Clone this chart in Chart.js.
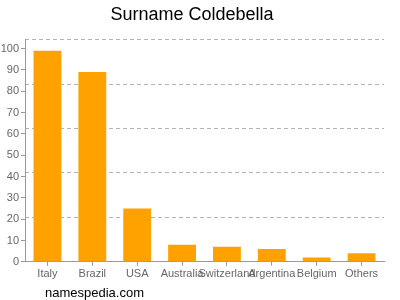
<!DOCTYPE html>
<html>
<head>
<meta charset="utf-8">
<script src="https://cdn.jsdelivr.net/npm/chart.js@4"></script>
<style>
    body { margin: 0; background: #fff; }
    #wrap { position: relative; width: 400px; height: 300px; }
    #site { position: absolute; left: 45px; top: 285px; font: 13px "Liberation Sans", Arial, sans-serif; color: #000; }
</style>
</head>
<body>
<div id="wrap">
    <canvas id="surnameChart" width="400" height="300"></canvas>
    <div id="site">namespedia.com</div>
</div>
<script>
// data
const countries = ['Italy', 'Brazil', 'USA', 'Australia', 'Switzerland', 'Argentina', 'Belgium', 'Others'];
const counts = [99, 89, 25, 8, 7, 6, 2, 4];
const yTicks = [0, 10, 20, 30, 40, 50, 60, 70, 80, 90, 100];
const yMax = 104.2;

const fontFamily = '"Liberation Sans", Arial, sans-serif';

const ctx = document.getElementById('surnameChart').getContext('2d');
const surnameChart = new Chart(ctx, {
    type: 'bar',
    data: {
        labels: countries,
        datasets: [{
            data: counts,
            backgroundColor: '#ffa200',
            categoryPercentage: 1,
            barPercentage: 0.62,
        }],
    },
    options: {
        responsive: false,
        animation: false,
        layout: { padding: { top: 4, right: 16, bottom: 17, left: 0 } },
        plugins: {
            legend: { display: false },
            tooltip: { enabled: false },
            title: {
                display: true,
                text: 'Surname Coldebella',
                color: '#000',
                font: { family: fontFamily, size: 18, weight: 'normal' },
                padding: { top: 0, bottom: 14 },
            },
        },
        scales: {
            x: {
                grid: { offset: false, drawOnChartArea: false, tickLength: 4, color: '#999' },
                border: { color: '#999' },
                ticks: {
                    autoSkip: false, maxRotation: 0, color: '#666', padding: 2,
                    font: { family: fontFamily, size: 11 },
                },
            },
            y: {
                min: 0,
                max: yMax,
                afterBuildTicks: scale => {
                    scale.ticks = yTicks.map(v => ({ value: v }));
                },
                afterFit: scale => { scale.width = 25; },
                grid: { drawOnChartArea: false, tickLength: 4, color: '#999' },
                border: { color: '#999' },
                ticks: {
                    color: '#666', padding: 2,
                    font: { family: fontFamily, size: 11 },
                },
            },
            // dashed guide lines, 5 equal parts of the axis
            yGrid: {
                position: 'right',
                min: 0,
                max: yMax,
                afterFit: scale => { scale.width = 0; },
                ticks: { display: false, stepSize: yMax / 5 },
                border: { display: false, dash: [4, 3] },
                grid: { drawTicks: false, color: '#b4b4b4' },
            },
        },
    },
});
</script>
</body>
</html>
